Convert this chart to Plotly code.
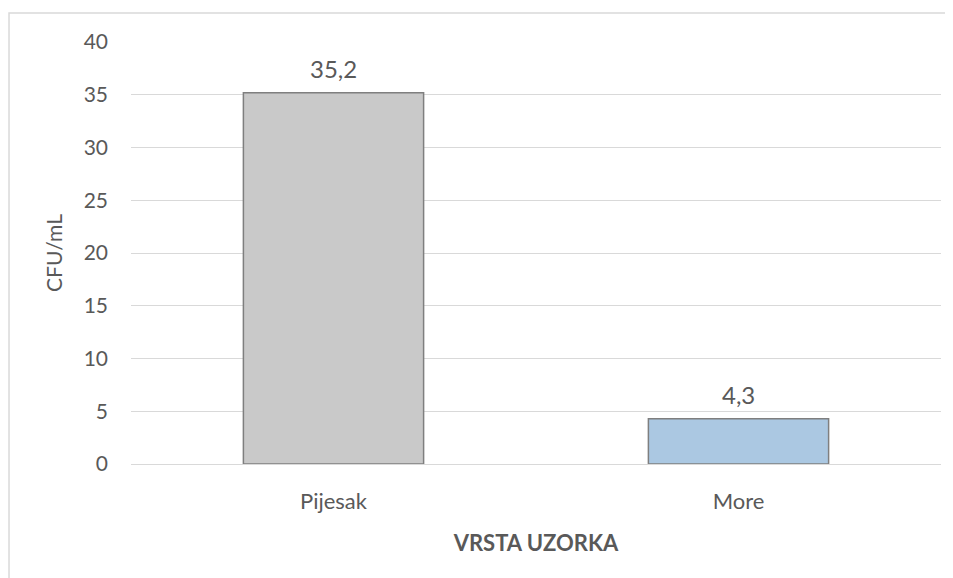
import plotly.graph_objects as go

categories = ["Pijesak", "More"]
values = [35.2, 4.3]
bar_colors = ["#C9C9C9", "#ABC8E2"]
y_ticks = [0, 5, 10, 15, 20, 25, 30, 35, 40]

FONT = "Lato, 'Open Sans', sans-serif"
TXT = "#595959"

fig = go.Figure()
fig.add_trace(go.Bar(
    x=categories, y=values,
    marker=dict(color=bar_colors, line=dict(color="#7F7F7F", width=1.5)),
    width=0.445,
    hoverinfo="skip",
))

for c, v in zip(categories, values):
    fig.add_annotation(x=c, y=v, text=f"{v:.1f}".replace(".", ","),
                       showarrow=False, yanchor="bottom", yshift=8,
                       font=dict(family=FONT, size=24, color=TXT))

fig.add_shape(type="rect", xref="paper", yref="paper",
              x0=-0.1506, x1=1.1, y0=-0.4, y1=1.0687,
              line=dict(color="#D9D9D9", width=1.5), fillcolor="rgba(0,0,0,0)",
              layer="below")

fig.update_layout(
    width=945, height=570,
    margin=dict(l=123, r=12, t=34, b=114),
    paper_bgcolor="white", plot_bgcolor="white",
    showlegend=False,
    separators=",.",
    font=dict(family=FONT, color=TXT),
    xaxis=dict(
        showgrid=False, showline=False, zeroline=False, ticks="",
        tickfont=dict(size=22, color=TXT), ticklabelstandoff=22,
        title=dict(text="<b>VRSTA UZORKA</b>", font=dict(size=22, color=TXT), standoff=22),
    ),
    yaxis=dict(
        range=[0, 40], tickvals=y_ticks,
        showgrid=True, gridcolor="#D9D9D9", gridwidth=1.3,
        zeroline=True, zerolinecolor="#D9D9D9", zerolinewidth=1.3,
        showline=False, ticks="", ticklabelstandoff=22,
        tickfont=dict(size=21, color=TXT),
        title=dict(text="CFU/mL", font=dict(size=21, color=TXT), standoff=15),
    ),
)

fig.write_html("out.html")
